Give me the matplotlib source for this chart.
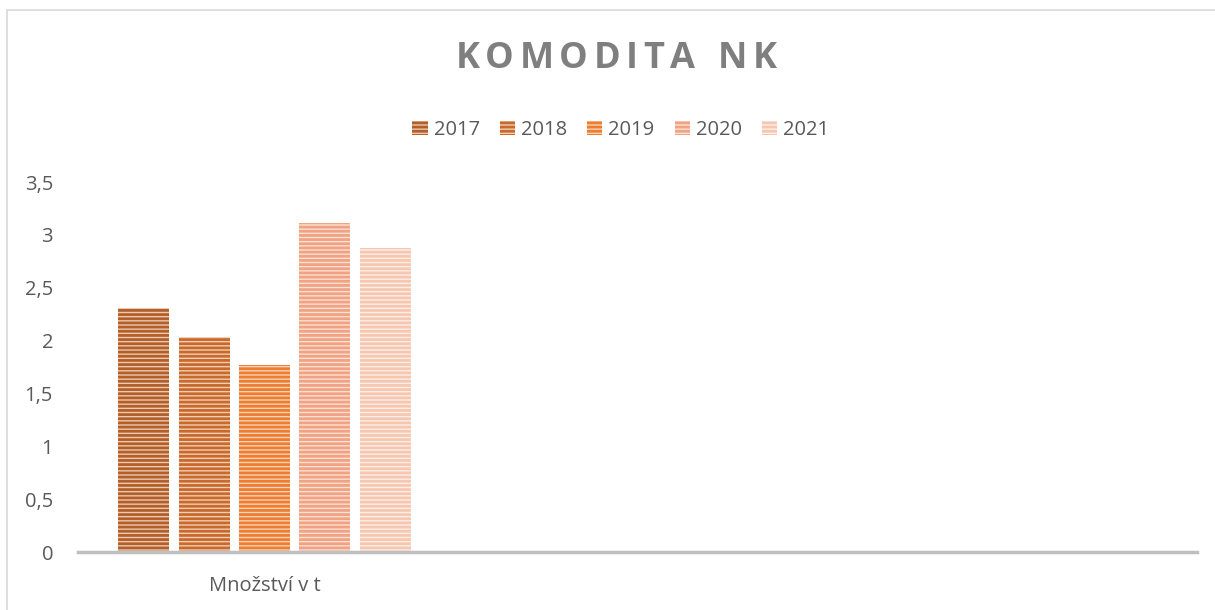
import matplotlib
matplotlib.use("Agg")
import matplotlib.pyplot as plt
import numpy as np

plt.rcParams['font.family'] = ['Open Sans', 'DejaVu Sans']
plt.rcParams['hatch.linewidth'] = 2.0

# data
categories = ['Množství v t', '', '']
years = ['2017', '2018', '2019', '2020', '2021']
values = [2.31, 2.03, 1.77, 3.11, 2.88]
yticks = [0, 0.5, 1, 1.5, 2, 2.5, 3, 3.5]
ytick_labels = ['0', '0,5', '1', '1,5', '2', '2,5', '3', '3,5']
title = 'KOMODITA NK'

stripe_colors = ['#b25f2a', '#c9692c', '#ed7d31', '#f1a283', '#f6c7b0']
face_colors = ['#ecc9b0', '#f1cfb5', '#f9d3b8', '#fbe0d4', '#fdeee7']

TEXT = '#595959'
FS = 14.5

fig = plt.figure(figsize=(12.15, 6.1), dpi=100)
ax = fig.add_axes([0.0642, 0.095, 0.9208, 0.6066])

# chart border (Excel frame)
fig.patches.append(plt.Rectangle((7 / 1215, -0.05), 1.2, 1 - 10 / 610 + 0.05,
                                 transform=fig.transFigure, fill=False,
                                 edgecolor='#d9d9d9', linewidth=1.2))

x = np.arange(len(categories))
step = 0.162
width = 0.137
for i, (yr, v) in enumerate(zip(years, values)):
    ax.bar(x[0] + (i - 2) * step, v, width=width, color=face_colors[i],
           edgecolor=stripe_colors[i], hatch='----', linewidth=0, label=yr)

ax.set_xlim(-0.5, 2.5)
ax.set_ylim(0, 3.5)
ax.set_yticks(yticks)
ax.set_yticklabels(ytick_labels, fontsize=FS, color=TEXT)
ax.set_xticks(x)
ax.set_xticklabels(categories, fontsize=FS, color=TEXT)
ax.tick_params(axis='y', length=0, pad=18)
ax.tick_params(axis='x', length=0, pad=17)
for s in ['top', 'right', 'left']:
    ax.spines[s].set_visible(False)
ax.spines['bottom'].set_color('#bfbfbf')
ax.spines['bottom'].set_linewidth(2.5)

ax.legend(loc='center', bbox_to_anchor=(0.511, 0.787), bbox_transform=fig.transFigure,
          ncol=5, frameon=False, fontsize=FS, labelcolor=TEXT,
          handlelength=0.75, handleheight=0.75, handletextpad=0.3, columnspacing=1.0)

# letter-spaced title: measure each glyph, then lay them out with extra tracking
renderer = fig.canvas.get_renderer()
tracking = 5.5  # px between letters
TFS = 26
widths = []
for ch in title:
    t = fig.text(0, 0, ch if ch != ' ' else 'n', fontsize=TFS, fontweight='bold')
    widths.append(t.get_window_extent(renderer).width * (0.5 if ch == ' ' else 1))
    t.remove()
total = sum(widths) + tracking * (len(title) - 1)
xpos = 616 - total / 2
for ch, w in zip(title, widths):
    if ch != ' ':
        fig.text(xpos / 1215, 1 - 59 / 610, ch, ha='left', va='center',
                 fontsize=TFS, fontweight='bold', color='#7f7f7f')
    xpos += w + tracking

fig.savefig('out.png', dpi=100)
